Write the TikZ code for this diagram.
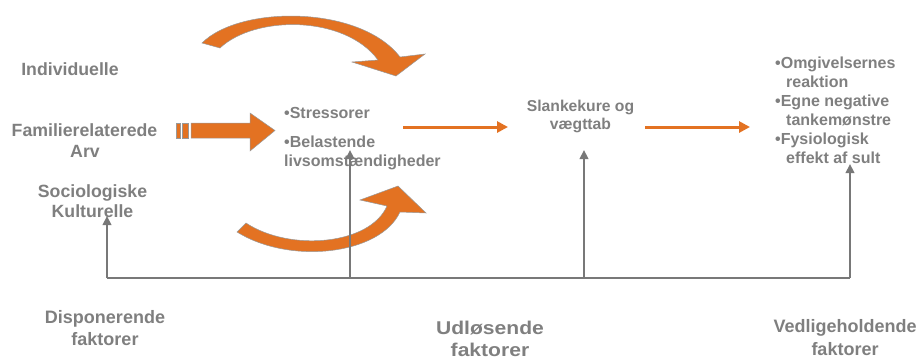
\documentclass[tikz,border=0pt]{standalone}
\usepackage{fontspec}
\setmainfont{Liberation Sans}
\usetikzlibrary{arrows.meta}
\definecolor{dgray}{RGB}{127,127,127}
\definecolor{lgray}{RGB}{120,120,120}
\definecolor{orng}{RGB}{227,114,34}
\begin{document}
\begin{tikzpicture}[x=1pt,y=-1pt,
  lbl/.style={text=dgray,font=\bfseries\fontsize{17.7}{20}\selectfont,inner sep=0pt,anchor=base},
  mid/.style={text=dgray,font=\bfseries\fontsize{16}{19}\selectfont,inner sep=0pt,anchor=base west},
  rgt/.style={text=dgray,font=\bfseries\fontsize{16}{19}\selectfont,inner sep=0pt,anchor=base west},
  ctr/.style={text=dgray,font=\bfseries\fontsize{15.7}{19}\selectfont,inner sep=0pt,anchor=base},
  bot/.style={text=dgray,font=\bfseries\fontsize{18}{20}\selectfont,inner sep=0pt,anchor=base},
  botbig/.style={text=dgray,font=\bfseries\fontsize{18.5}{22}\selectfont,inner sep=0pt,anchor=base,xscale=1.14,transform shape},
  blockarrow/.style={fill=orng,draw=gray!80,line width=0.5pt},
  orarrow/.style={draw=orng,line width=3pt,-{Triangle[width=11pt,length=11pt]}},
  grarrow/.style={draw=lgray,line width=2.5pt,-{Triangle[width=8.5pt,length=9pt]}},
  grline/.style={draw=lgray,line width=2.7pt,line cap=square}]
\useasboundingbox (0,0) rectangle (920,359);

% curved orange arrows
\path[blockarrow] (202,43) .. controls (240,5) and (360,5) .. (400,57) -- (425,54) -- (396,76) -- (352,62) -- (378,60) .. controls (345,15) and (255,15) .. (220,48) -- cycle;
\path[blockarrow] (237,232) .. controls (290,265) and (380,255) .. (400,212) -- (426,213) -- (398,186) -- (360,200) -- (387,206) .. controls (370,245) and (290,252) .. (246,223) -- cycle;

% horizontal block arrow with stripes
\path[blockarrow] (176,123) rectangle (180,138);
\path[blockarrow] (182,123) rectangle (188,138);
\path[blockarrow] (191,123) -- (250,123) -- (250,113) -- (275,130.5) -- (250,151) -- (250,138) -- (191,138) -- cycle;

% left labels
\node[lbl] (indiv) at (70,75) {Individuelle};
\node[lbl] (fam1) at (84.5,136) {Familierelaterede};
\node[lbl] (fam2) at (85,157) {Arv};
\node[lbl] (soc1) at (92.5,197) {Sociologiske};
\node[lbl] (soc2) at (92.5,217) {Kulturelle};

% middle texts
\node[mid] (str1) at (284,118) {•Stressorer};
\node[mid] (str2) at (284,147) {•Belastende};
\node[mid] (str3) at (284,166) {livsomstændigheder};
\node[ctr] (sl1) at (580.5,111) {Slankekure og};
\node[ctr] (sl2) at (580.5,129) {vægttab};

% right texts
\node[rgt] (r1) at (775,68) {•Omgivelsernes};
\node[rgt] (r2) at (786,87) {reaktion};
\node[rgt] (r3) at (775,106) {•Egne negative};
\node[rgt] (r4) at (786,125) {tankemønstre};
\node[rgt] (r5) at (775,144) {•Fysiologisk};
\node[rgt] (r6) at (786,163) {effekt af sult};

% bottom labels
\node[bot] (dis1) at (105,323) {Disponerende};
\node[bot] (dis2) at (105,345) {faktorer};
\node[botbig] (ud1) at (490,334) {Udløsende};
\node[botbig] (ud2) at (490,356) {faktorer};
\node[bot] (ved1) at (845,332) {Vedligeholdende};
\node[bot] (ved2) at (845,355) {faktorer};

% orange flow arrows
\coordinate (oa1) at (403,127);
\coordinate (oa2) at (508,127);
\coordinate (ob1) at (645,127);
\coordinate (ob2) at (750,127);
\draw[orarrow] (oa1) -- (oa2);
\draw[orarrow] (ob1) -- (ob2);

% gray baseline and arrows
\coordinate (b1) at (107,278);
\coordinate (b2) at (350,278);
\coordinate (b3) at (584,278);
\coordinate (b4) at (850,278);
\coordinate (t1) at (107,216);
\coordinate (t2) at (350,150);
\coordinate (t3) at (584,150);
\coordinate (t4) at (850,164);
\draw[grline] (b1) -- (b4);
\draw[grarrow] (b1) -- (t1);
\draw[grarrow] (b2) -- (t2);
\draw[grarrow] (b3) -- (t3);
\draw[grarrow] (b4) -- (t4);
\end{tikzpicture}
\end{document}
